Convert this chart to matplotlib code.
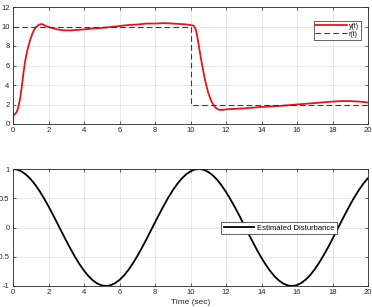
import matplotlib
matplotlib.use("Agg")
import matplotlib.pyplot as plt

# ---- data ----
t_y = [0, 0.02, 0.1, 0.2, 0.3, 0.4, 0.5, 0.6, 0.7, 0.8, 0.9, 1.0, 1.1, 1.2, 1.3, 1.4, 1.5,
       1.6, 1.7, 1.8, 2.0, 2.2, 2.5, 2.8, 3.0, 3.3, 3.6, 4.0, 4.5, 5.0, 5.5, 6.0, 6.5, 7.0,
       7.5, 8.0, 8.5, 9.0, 9.5, 9.8, 10.0, 10.1, 10.2, 10.3, 10.4, 10.5, 10.6, 10.7, 10.8,
       10.9, 11.0, 11.1, 11.2, 11.3, 11.4, 11.5, 11.6, 11.7, 11.8, 12.0, 12.5, 13.0, 14.0,
       15.0, 16.0, 17.0, 18.0, 18.5, 19.0, 19.5, 20.0]
y_vals = [0, 0.9, 1.0, 1.2, 1.7, 2.6, 3.9, 5.4, 6.6, 7.5, 8.2, 8.8, 9.3, 9.7, 9.95, 10.1, 10.2,
          10.25, 10.2, 10.1, 9.95, 9.85, 9.7, 9.62, 9.6, 9.6, 9.65, 9.7, 9.8, 9.85, 9.95, 10.05,
          10.15, 10.2, 10.3, 10.3, 10.35, 10.3, 10.25, 10.2, 10.15, 10.12, 10.05, 9.7, 8.8, 7.7,
          6.6, 5.6, 4.7, 3.9, 3.2, 2.7, 2.25, 1.95, 1.7, 1.55, 1.47, 1.45, 1.45, 1.5, 1.55, 1.6,
          1.75, 1.85, 2.0, 2.15, 2.3, 2.35, 2.35, 2.3, 2.2]

t_r = [0, 10, 10, 20]
r_vals = [10, 10, 2, 2]

t_d = [i * 0.25 for i in range(81)]
d_vals = [1.000, 0.989, 0.955, 0.900, 0.825, 0.732, 0.622, 0.498, 0.362, 0.219, 0.071,
          -0.079, -0.227, -0.370, -0.505, -0.628, -0.737, -0.830, -0.904, -0.958, -0.990,
          -1.000, -0.987, -0.952, -0.897, -0.821, -0.726, -0.615, -0.490, -0.354, -0.211,
          -0.062, 0.087, 0.235, 0.378, 0.512, 0.635, 0.743, 0.835, 0.908, 0.960, 0.992,
          1.000, 0.986, 0.950, 0.893, 0.816, 0.720, 0.608, 0.482, 0.347, 0.203, 0.054,
          -0.096, -0.243, -0.386, -0.519, -0.641, -0.749, -0.839, -0.911, -0.962, -0.993,
          -1.000, -0.985, -0.947, -0.889, -0.811, -0.714, -0.601, -0.475, -0.339, -0.195,
          -0.046, 0.104, 0.251, 0.393, 0.526, 0.647, 0.754, 0.844]

x_ticks = [0, 2, 4, 6, 8, 10, 12, 14, 16, 18, 20]
y1_ticks = [0, 2, 4, 6, 8, 10, 12]
y2_ticks = [-1, -0.5, 0, 0.5, 1]
y2_labels = ["-1", "-0.5", "0", "0.5", "1"]

plt.rcParams['font.family'] = ['Liberation Sans', 'DejaVu Sans']

fig = plt.figure(figsize=(3.72, 3.07), dpi=100)
W, H = 372, 307

def style(ax):
    ax.grid(True, color='#e3e3e3', linewidth=0.6)
    ax.set_axisbelow(True)
    for s in ax.spines.values():
        s.set_color('#262626')
        s.set_linewidth(0.6)
    ax.tick_params(direction='in', length=2.5, width=0.5, labelsize=5.5,
                   top=True, right=True, colors='#262626', pad=2.5)

ax1 = fig.add_axes([13 / W, (H - 124) / H, 355 / W, 117 / H])
ax1.plot(t_y, y_vals, color='#e8141a', linewidth=1.3, label='y(t)')
ax1.plot(t_r, r_vals, color='#3a3a3a', linewidth=0.8, linestyle=(0, (5, 3)), label='r(t)')
ax1.set_xlim(0, 20)
ax1.set_ylim(0, 12)
ax1.set_xticks(x_ticks)
ax1.set_yticks(y1_ticks)
style(ax1)
leg1 = ax1.legend(loc='upper right', fontsize=5, frameon=True, fancybox=False,
                  edgecolor='#262626', framealpha=1, handlelength=4.5, handletextpad=0.3,
                  borderpad=0.25, labelspacing=0.15, bbox_to_anchor=(0.989, 0.91))
leg1.get_frame().set_linewidth(0.5)

ax2 = fig.add_axes([13 / W, (H - 286) / H, 355 / W, 117 / H])
ax2.plot(t_d, d_vals, color='black', linewidth=1.3, label='Estimated Disturbance')
ax2.set_xlim(0, 20)
ax2.set_ylim(-1, 1)
ax2.set_xticks(x_ticks)
ax2.set_yticks(y2_ticks)
ax2.set_yticklabels(y2_labels)
style(ax2)
ax2.set_xlabel('Time (sec)', fontsize=6, labelpad=1.5, color='#262626')
leg2 = ax2.legend(loc='center', bbox_to_anchor=(0.75, 0.496), fontsize=5.5, frameon=True,
                  fancybox=False, edgecolor='#262626', framealpha=1, handlelength=4,
                  handletextpad=0.4, borderpad=0.35)
leg2.get_frame().set_linewidth(0.5)

fig.savefig('out.png', dpi=100)
